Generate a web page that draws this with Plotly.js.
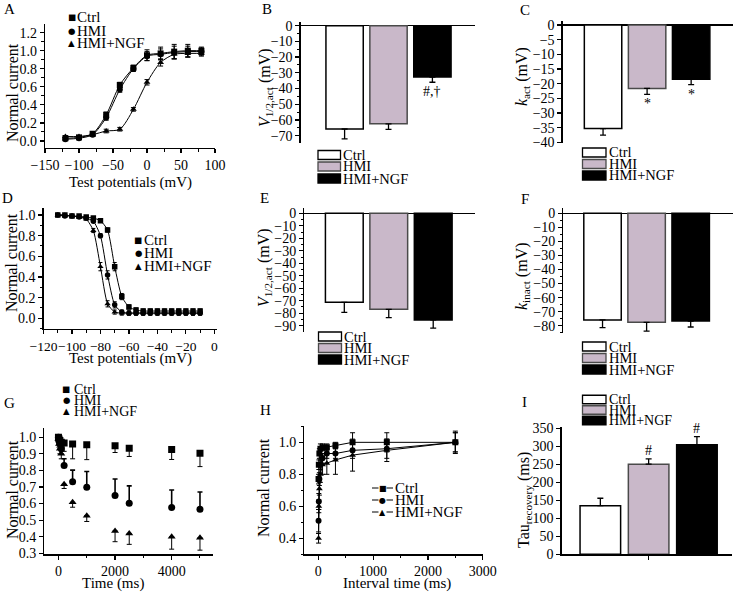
<!DOCTYPE html>
<html><head><meta charset="utf-8">
<script src="https://cdn.plot.ly/plotly-3.0.1.min.js"></script>
<style>html,body{margin:0;padding:0;background:#fff}#chart{width:737px;height:594px}</style>
</head><body><div id="chart"></div>
<script>
// ---------------- DATA ----------------
const groups = ['Ctrl', 'HMI', 'HMI+NGF'];
const symbols = ['square', 'circle', 'triangle-up'];
const glyphs = ['■', '●', '▲'];

// A: activation curves
const actV = [-120, -100, -80, -60, -40, -20, 0, 20, 40, 60, 80];
const actCtrl = [0.03, 0.04, 0.08, 0.29, 0.62, 0.81, 0.95, 0.97, 0.99, 1.00, 1.00];
const actCtrlErr = [0.01, 0.01, 0.02, 0.03, 0.03, 0.03, 0.06, 0.07, 0.08, 0.07, 0.04];
const actHMI = [0.02, 0.03, 0.07, 0.26, 0.57, 0.80, 0.94, 0.96, 0.98, 0.99, 0.99];
const actHMIErr = [0.01, 0.01, 0.02, 0.03, 0.03, 0.03, 0.05, 0.06, 0.07, 0.06, 0.04];
const actNGF = [0.05, 0.05, 0.07, 0.11, 0.13, 0.35, 0.65, 0.87, 0.96, 0.97, 0.97];
const actNGFErr = [0.01, 0.01, 0.02, 0.02, 0.02, 0.02, 0.03, 0.04, 0.05, 0.04, 0.03];

// B: V1/2,act ; C: k_act
const v12act = [-65.7, -62.4, -32.7];
const v12actErr = [6.3, 3.6, 3.3];
const sigB = ['', '', '#,†'];
const kAct = [-35.3, -21.6, -18.5];
const kActErr = [2.2, 2.0, 1.8];
const sigC = ['', '*', '*'];

// D: inactivation curves
const inactV = [-110, -105, -100, -95, -90, -85, -80, -75, -70, -65, -60, -55, -50, -45, -40, -35, -30, -25, -20, -15, -10];
const inactCtrl = [1.00, 1.00, 0.99, 0.99, 0.98, 0.97, 0.945, 0.855, 0.50, 0.21, 0.11, 0.08, 0.07, 0.07, 0.07, 0.07, 0.07, 0.07, 0.07, 0.07, 0.07];
const inactCtrlErr = [0.01, 0.01, 0.01, 0.01, 0.01, 0.01, 0.01, 0.02, 0.04, 0.03, 0.02, 0.02, 0.02, 0.02, 0.02, 0.02, 0.02, 0.02, 0.02, 0.02, 0.02];
const inactHMI = [1.00, 0.99, 0.99, 0.98, 0.97, 0.94, 0.80, 0.42, 0.13, 0.06, 0.05, 0.05, 0.05, 0.05, 0.05, 0.05, 0.05, 0.05, 0.05, 0.05, 0.05];
const inactHMIErr = [0.01, 0.01, 0.01, 0.01, 0.01, 0.01, 0.02, 0.04, 0.03, 0.02, 0.02, 0.02, 0.02, 0.02, 0.02, 0.02, 0.02, 0.02, 0.02, 0.02, 0.02];
const inactNGF = [1.00, 1.00, 0.99, 0.98, 0.96, 0.85, 0.50, 0.14, 0.06, 0.05, 0.05, 0.05, 0.05, 0.05, 0.05, 0.05, 0.05, 0.05, 0.05, 0.05, 0.05];
const inactNGFErr = [0.01, 0.01, 0.01, 0.01, 0.01, 0.02, 0.04, 0.03, 0.02, 0.02, 0.02, 0.02, 0.02, 0.02, 0.02, 0.02, 0.02, 0.02, 0.02, 0.02, 0.02];

// E: V1/2 (inact) ; F: k_inact
const v12inact = [-71.3, -76.9, -85.4];
const v12inactErr = [8.0, 6.7, 6.6];
const kInact = [-75.9, -77.6, -76.7];
const kInactErr = [5.5, 6.2, 4.2];

// G: development of inactivation
const timeG = [0, 20, 50, 100, 200, 500, 1000, 2000, 2500, 4000, 5000];
const gCtrl = [1.00, 0.99, 0.98, 0.97, 0.965, 0.96, 0.955, 0.948, 0.934, 0.926, 0.903];
const gCtrlErrDown = [0.01, 0.02, 0.03, 0.04, 0.05, 0.09, 0.09, 0.04, 0.05, 0.06, 0.08];
const gHMI = [1.00, 0.98, 0.96, 0.93, 0.83, 0.732, 0.698, 0.648, 0.602, 0.577, 0.565];
const gHMIErrUp = [0.01, 0.01, 0.02, 0.03, 0.04, 0.07, 0.095, 0.10, 0.105, 0.105, 0.105];
const gNGF = [0.99, 0.96, 0.93, 0.90, 0.716, 0.608, 0.527, 0.435, 0.42, 0.40, 0.394];
const gNGFErrDown = [0.01, 0.02, 0.03, 0.03, 0.025, 0.03, 0.035, 0.065, 0.066, 0.075, 0.075];

// H: recovery from inactivation
const intervalH = [5, 10, 20, 39, 78, 156, 313, 625, 1250, 2500];
const hCtrl = [0.77, 0.86, 0.93, 0.96, 0.97, 0.97, 0.98, 1.00, 1.00, 1.00];
const hCtrlErr = [0.03, 0.03, 0.03, 0.03, 0.02, 0.02, 0.02, 0.06, 0.06, 0.07];
const hHMI = [0.51, 0.63, 0.77, 0.86, 0.90, 0.93, 0.93, 0.95, 0.96, 1.00];
const hHMIErr = [0.07, 0.05, 0.04, 0.03, 0.03, 0.03, 0.03, 0.05, 0.06, 0.06];
const hNGF = [0.40, 0.60, 0.71, 0.80, 0.86, 0.87, 0.89, 0.92, 0.95, 1.00];
const hNGFErr = [0.03, 0.04, 0.04, 0.05, 0.06, 0.07, 0.09, 0.10, 0.07, 0.06];

// I: tau recovery
const tauRec = [135, 250, 303.6];
const tauRecErr = [20.5, 14.7, 23.1];
const sigI = ['', '#', '#'];

// D x-axis tick labels
const dTickVals = [-120, -100, -80, -60, -40, -20, 0];
const dTickText = ['−120', '−100', '−80', '−60', '−40', '−20', '0'];

// ---------------- STYLE / LAYOUT ----------------
const SERIF = 'Liberation Serif, Times New Roman, serif';
const W = 737, H = 594;
const fx = p => p / W;
const fy = p => 1 - p / H;
const barFill = ['#ffffff', '#c9b8c9', '#000000'];
const barLine = ['#000000', '#4a4a4a', '#000000'];

function axisBase(extra) {
  return Object.assign({
    showline: true, linecolor: 'black', linewidth: 1.3,
    ticks: 'outside', ticklen: 4, tickwidth: 1.2, tickcolor: 'black',
    showgrid: false, zeroline: false, fixedrange: true, tickangle: 0,
    tickfont: {family: SERIF, size: 14, color: 'black'}
  }, extra);
}
function minor(d) { return {ticks: 'outside', ticklen: 2.5, tickwidth: 1, tickcolor: 'black', dtick: d}; }
function xDom(a, b) { return [fx(a), fx(b)]; }
function yDom(top, bottom) { return [fy(bottom), fy(top)]; }
function barX(a, b, range, anchor) {
  return {domain: xDom(a, b), range: range, anchor: anchor, type: 'category', visible: false,
    showticklabels: false, fixedrange: true};
}
function barY(top, bottom, range, anchor, dtick, mdt) {
  const o = {domain: yDom(top, bottom), range: range, anchor: anchor, dtick: dtick, tick0: 0,
    zeroline: true, zerolinecolor: 'black', zerolinewidth: 1.3};
  if (mdt) o.minor = minor(mdt);
  return axisBase(o);
}

const traces = [];
// A
[[actCtrl, actCtrlErr], [actHMI, actHMIErr], [actNGF, actNGFErr]].forEach((d, i) => {
  traces.push({type: 'scatter', mode: 'lines+markers', x: actV, y: d[0], xaxis: 'x', yaxis: 'y',
    line: {color: 'black', width: 1, shape: 'spline', smoothing: 0.8},
    marker: {symbol: symbols[i], size: 6, color: 'black'},
    error_y: {type: 'data', array: d[1], color: 'black', thickness: 1, width: 2.5}});
});
// D
[[inactCtrl, inactCtrlErr], [inactHMI, inactHMIErr], [inactNGF, inactNGFErr]].forEach((d, i) => {
  traces.push({type: 'scatter', mode: 'lines+markers', x: inactV, y: d[0], xaxis: 'x4', yaxis: 'y4',
    line: {color: 'black', width: 1, shape: 'spline', smoothing: 0.6},
    marker: {symbol: symbols[i], size: 5.5, color: 'black'},
    error_y: {type: 'data', array: d[1], color: 'black', thickness: 1, width: 2}});
});
// bars
function barTrace(vals, errs, ax, neg) {
  const zeros = vals.map(() => 0);
  return {type: 'bar', x: groups, y: vals, xaxis: 'x' + ax, yaxis: 'y' + ax, width: 0.85,
    marker: {color: barFill, line: {color: barLine, width: 1.5}},
    error_y: {type: 'data', symmetric: false, array: neg ? zeros : errs, arrayminus: neg ? errs : zeros,
      color: 'black', thickness: 1.3, width: 3}};
}
traces.push(barTrace(v12act, v12actErr, 2, true));
traces.push(barTrace(kAct, kActErr, 3, true));
traces.push(barTrace(v12inact, v12inactErr, 5, true));
traces.push(barTrace(kInact, kInactErr, 6, true));
const tI = barTrace(tauRec, tauRecErr, 9, false); tI.width = 0.84; traces.push(tI);
// G
const zG = timeG.map(() => 0);
[[gCtrl, zG, gCtrlErrDown], [gHMI, gHMIErrUp, zG], [gNGF, zG, gNGFErrDown]].forEach((d, i) => {
  traces.push({type: 'scatter', mode: 'markers', x: timeG, y: d[0], xaxis: 'x7', yaxis: 'y7',
    marker: {symbol: symbols[i], size: 7, color: 'black'},
    error_y: {type: 'data', symmetric: false, array: d[1], arrayminus: d[2], color: 'black',
      thickness: i === 1 ? 1.6 : 1, width: 2.5}});
});
// H
[[hCtrl, hCtrlErr], [hHMI, hHMIErr], [hNGF, hNGFErr]].forEach((d, i) => {
  traces.push({type: 'scatter', mode: 'lines+markers', x: intervalH, y: d[0], xaxis: 'x8', yaxis: 'y8',
    line: {color: 'black', width: 1},
    marker: {symbol: symbols[i], size: 6, color: 'black'},
    error_y: {type: 'data', array: d[1], color: 'black', thickness: 1, width: 2.5}});
});

const ann = [];
const shapes = [];
function txt(x, y, text, o) {
  ann.push(Object.assign({xref: 'paper', yref: 'paper', x: fx(x), y: fy(y), text: text, showarrow: false,
    xanchor: 'center', yanchor: 'middle', borderpad: 0, font: {family: SERIF, size: 15, color: 'black'}}, o || {}));
}
// panel letters
[['A', 9, 9], ['B', 267, 9], ['C', 525, 10], ['D', 8, 198], ['E', 264, 198], ['F', 525, 199],
 ['G', 9, 403], ['H', 265, 410], ['I', 524, 402]].forEach(p => txt(p[1], p[2], p[0]));
// y titles
const yt = {textangle: -90, font: {family: SERIF, size: 16, color: 'black'}};
txt(12, 93, 'Normal current', yt);
txt(265, 88, '<i>V</i><sub>1/2,act</sub> (mV)', yt);
txt(522, 77, '<i>k</i><sub>act</sub> (mV)', yt);
txt(12, 263, 'Normal current', yt);
txt(265, 268, '<i>V</i><sub>1/2,act</sub> (mV)', yt);
txt(522, 276, '<i>k</i><sub>inact</sub> (mV)', yt);
txt(12, 490, 'Normal current', yt);
txt(263, 488, 'Normal current', yt);
txt(524, 500, 'Tau<sub>recovery</sub> (ms)', yt);
// x titles
txt(130, 182, 'Test potentials (mV)');
txt(130, 358, 'Test potentials (mV)');
txt(113, 583, 'Time (ms)');
txt(397, 583, 'Interval time (ms)');

// scatter legends
function scatterLegend(mx, tx, rows, fs) {
  groups.forEach((g, i) => {
    txt(mx, rows[i], glyphs[i], {font: {family: 'DejaVu Sans', size: 8.5, color: 'black'}});
    txt(tx, rows[i], g, {xanchor: 'left', font: {family: SERIF, size: fs, color: 'black'}});
  });
}
scatterLegend(71.5, 76, [17.5, 30.5, 42.5], 15);
scatterLegend(138, 143, [240, 253, 266], 15);
scatterLegend(66, 73, [389, 400, 411], 14);
// H legend with line segments
[488, 500, 512].forEach((r, i) => {
  shapes.push({type: 'line', xref: 'paper', yref: 'paper', x0: fx(372), x1: fx(378.5), y0: fy(r), y1: fy(r), line: {color: 'black', width: 1}});
  shapes.push({type: 'line', xref: 'paper', yref: 'paper', x0: fx(386.5), x1: fx(393), y0: fy(r), y1: fy(r), line: {color: 'black', width: 1}});
  txt(382.5, r, glyphs[i], {font: {family: 'DejaVu Sans', size: 8, color: 'black'}});
  txt(394, r, groups[i], {xanchor: 'left'});
});
// bar legends
function barLegend(x0, x1, rows, h, fs) {
  groups.forEach((g, i) => {
    shapes.push({type: 'rect', xref: 'paper', yref: 'paper', x0: fx(x0), x1: fx(x1),
      y0: fy(rows[i] + h / 2), y1: fy(rows[i] - h / 2), fillcolor: barFill[i], line: {color: barLine[i], width: 1.3}});
    txt(x1 + 1.5, rows[i], g, {xanchor: 'left', font: {family: SERIF, size: fs, color: 'black'}});
  });
}
barLegend(318, 340.5, [155, 166.5, 178.5], 9, 14.5);
barLegend(582.5, 606, [152.5, 164, 175.5], 9, 14.5);
barLegend(318.5, 341.5, [336.5, 348, 359.5], 9, 14.5);
barLegend(582.5, 606, [346.5, 358, 369.5], 9, 14.5);
barLegend(582.5, 606, [399.5, 410, 420.5], 8.5, 14);

// significance marks (anchored to data)
function sig(labels, vals, errs, ax, neg) {
  labels.forEach((s, i) => {
    if (!s) return;
    ann.push({xref: 'x' + ax, yref: 'y' + ax, x: groups[i], y: neg ? vals[i] - errs[i] : vals[i] + errs[i],
      text: s, showarrow: false, xanchor: 'center', yanchor: neg ? 'top' : 'bottom', yshift: neg ? -1 : 0,
      borderpad: 0, font: {family: SERIF, size: 14, color: 'black'}});
  });
}
sig(sigB, v12act, v12actErr, 2, true);
sig(sigC, kAct, kActErr, 3, true);
sig(sigI, tauRec, tauRecErr, 9, false);

const layout = {
  width: W, height: H, margin: {l: 0, r: 0, t: 0, b: 0},
  paper_bgcolor: 'white', plot_bgcolor: 'rgba(0,0,0,0)', showlegend: false,
  font: {family: SERIF, color: 'black'}, bargap: 0,
  // A
  xaxis: axisBase({domain: xDom(45, 215), range: [-150, 100], anchor: 'y', dtick: 50, tick0: 0, minor: minor(25)}),
  yaxis: axisBase({domain: yDom(24, 148), range: [-0.078, 1.296], anchor: 'x', dtick: 0.2, tick0: 0, tickformat: '.1f', minor: minor(0.1)}),
  // B
  xaxis2: barX(300.7, 475, [-1, 2.97], 'y2'),
  yaxis2: barY(21.7, 143.3, [-74.8, 2.5], 'x2', 10, 5),
  // C
  xaxis3: barX(562.7, 733, [-0.916, 2.95], 'y3'),
  yaxis3: barY(20.7, 143.3, [-40.3, 1.47], 'x3', 5, null),
  // D
  xaxis4: axisBase({domain: xDom(43.5, 216.5), range: [-120, 1.5], anchor: 'y4',
    tickmode: 'array', tickvals: dTickVals, ticktext: dTickText, minor: minor(10),
    tickfont: {family: SERIF, size: 13.5, color: 'black'}}),
  yaxis4: axisBase({domain: yDom(208, 329), range: [-0.104, 1.068], anchor: 'x4', dtick: 0.2, tick0: 0, tickformat: '.1f', minor: minor(0.1)}),
  // E
  xaxis5: barX(304.3, 475, [-0.9, 2.94], 'y5'),
  yaxis5: barY(208.3, 331.7, [-94.8, 4.0], 'x5', 10, 5),
  // F
  xaxis6: barX(563.3, 733, [-0.89, 2.96], 'y6'),
  yaxis6: barY(207.7, 333.3, [-85.4, 4.0], 'x6', 10, 5),
  // G
  xaxis7: axisBase({domain: xDom(44.3, 213), range: [-500, 5460], anchor: 'y7', dtick: 2000, tick0: 0, minor: minor(1000)}),
  yaxis7: axisBase({domain: yDom(428.3, 554.3), range: [0.294, 1.054], anchor: 'x7', dtick: 0.1, tick0: 0, tickformat: '.1f'}),
  // H
  xaxis8: axisBase({domain: xDom(304.3, 483.3), range: [-255, 3010], anchor: 'y8', dtick: 1000, tick0: 0, minor: minor(500)}),
  yaxis8: axisBase({domain: yDom(425.7, 554.3), range: [0.30, 1.104], anchor: 'x8', dtick: 0.2, tick0: 0, tickformat: '.1f', minor: minor(0.1)}),
  // I
  xaxis9: {domain: xDom(561.7, 731.7), range: [-0.8, 2.72], anchor: 'y9', type: 'category', fixedrange: true,
    showline: true, linecolor: 'black', linewidth: 1.3, ticks: 'outside', ticklen: 4, tickcolor: 'black',
    tickvals: [groups[1]], showticklabels: false, showgrid: false},
  yaxis9: axisBase({domain: yDom(426.7, 554.3), range: [0, 354], anchor: 'x9', dtick: 50, tick0: 0}),
  annotations: ann,
  shapes: shapes
};

Plotly.newPlot('chart', traces, layout, {displayModeBar: false, staticPlot: true});
</script>
</body></html>
